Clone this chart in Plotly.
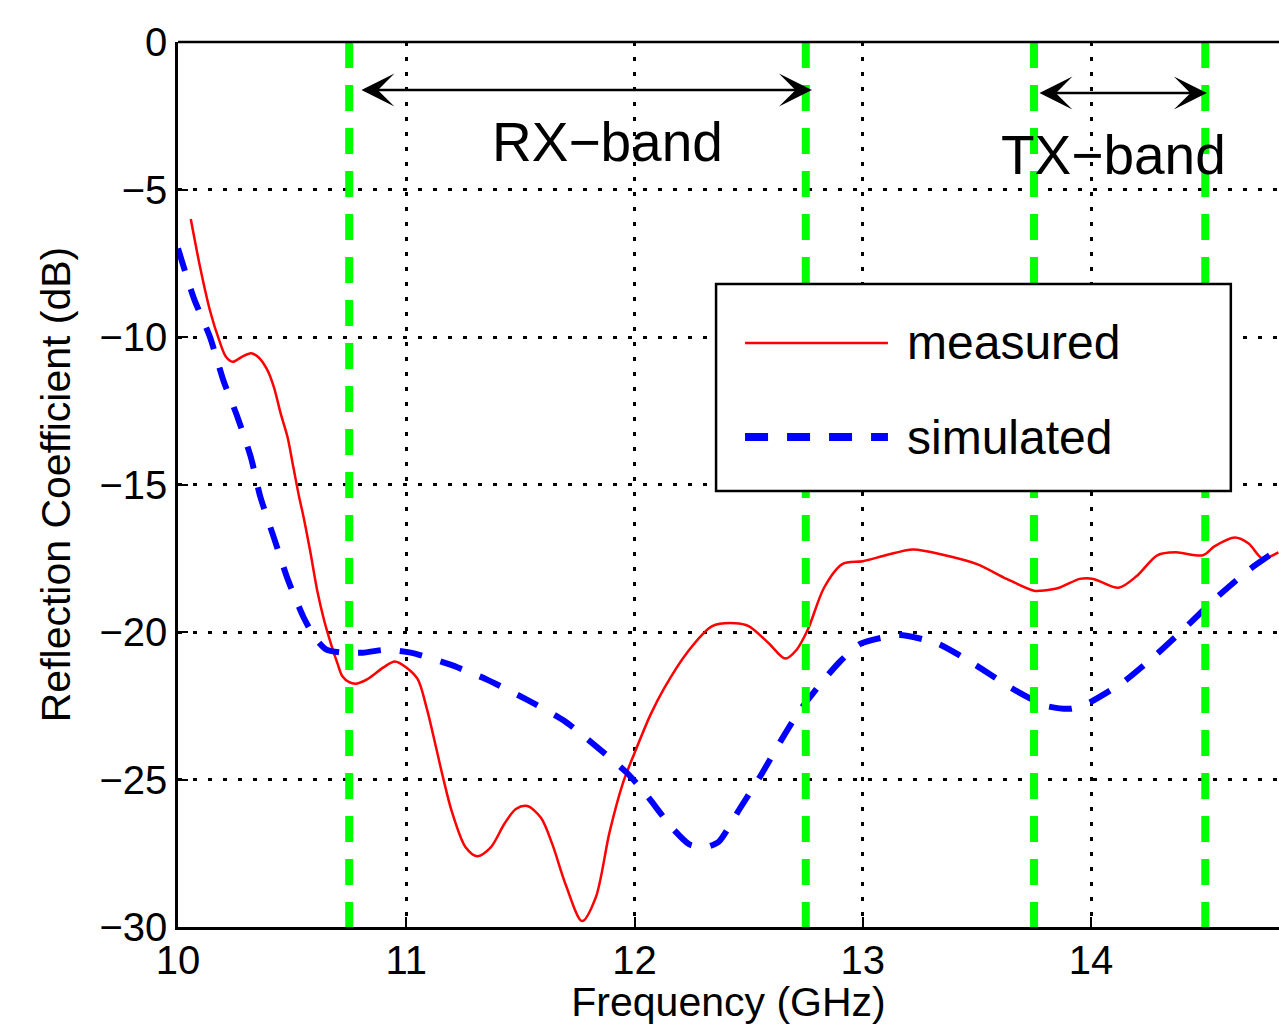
import plotly.graph_objects as go

# ---------------- data ----------------
freq_meas = [10.056, 10.096, 10.14, 10.18, 10.21, 10.24, 10.28, 10.32, 10.35, 10.39,
             10.42, 10.45, 10.48, 10.505, 10.53, 10.55, 10.58, 10.61, 10.64, 10.67,
             10.70, 10.72, 10.75, 10.78, 10.83, 10.90, 10.95, 11.00, 11.05, 11.09,
             11.13, 11.16, 11.20, 11.26, 11.31, 11.37, 11.43, 11.48, 11.53, 11.59,
             11.64, 11.70, 11.77, 11.83, 11.89, 11.95, 12.00, 12.07, 12.13, 12.23,
             12.34, 12.44, 12.50, 12.59, 12.66, 12.71, 12.76, 12.83, 12.91, 13.00,
             13.10, 13.22, 13.36, 13.50, 13.63, 13.75, 13.78, 13.86, 13.95, 14.01,
             14.12, 14.20, 14.29, 14.37, 14.49, 14.54, 14.63, 14.69, 14.75, 14.82]
s11_meas = [-6.0, -7.6, -9.1, -10.1, -10.67, -10.84, -10.67, -10.55, -10.67, -11.1,
            -11.7, -12.6, -13.4, -14.4, -15.4, -16.1, -17.3, -18.6, -19.6, -20.4,
            -21.1, -21.5, -21.7, -21.75, -21.6, -21.2, -21.0, -21.2, -21.6, -22.6,
            -23.9, -24.9, -26.1, -27.3, -27.6, -27.3, -26.5, -26.0, -25.9, -26.3,
            -27.2, -28.6, -29.8, -29.0, -26.8, -25.1, -24.1, -22.8, -21.9, -20.7,
            -19.8, -19.7, -19.8, -20.4, -20.9, -20.6, -19.9, -18.5, -17.7, -17.6,
            -17.4, -17.2, -17.4, -17.7, -18.2, -18.6, -18.6, -18.5, -18.2, -18.2,
            -18.5, -18.1, -17.4, -17.3, -17.4, -17.1, -16.8, -17.0, -17.5, -17.3]

freq_sim = [10.0, 10.07, 10.14, 10.20, 10.26, 10.32, 10.36, 10.42, 10.48, 10.55,
            10.60, 10.65, 10.72, 10.81, 10.91, 11.02, 11.19, 11.35, 11.53, 11.69,
            11.82, 11.97, 12.05, 12.16, 12.24, 12.31, 12.37, 12.46, 12.55, 12.64,
            12.72, 12.81, 12.90, 12.99, 13.16, 13.33, 13.49, 13.65, 13.80, 13.91,
            13.99, 14.14, 14.28, 14.42, 14.54, 14.69, 14.82]
s11_sim = [-7.0, -8.7, -10.0, -11.5, -12.7, -14.1, -15.4, -16.8, -18.2, -19.5,
           -20.2, -20.6, -20.7, -20.7, -20.6, -20.7, -21.1, -21.6, -22.3, -23.0,
           -23.8, -24.8, -25.5, -26.6, -27.2, -27.3, -27.1, -26.0, -24.9, -23.7,
           -22.7, -21.8, -21.0, -20.4, -20.1, -20.4, -21.1, -21.9, -22.5, -22.6,
           -22.4, -21.7, -20.8, -19.8, -18.9, -17.9, -17.2]

band_edges = [10.75, 12.75, 13.75, 14.5]
band_labels = ["RX\u2212band", "TX\u2212band"]
series_names = ["measured", "simulated"]

x_ticks = [10, 11, 12, 13, 14]
y_ticks = [-30, -25, -20, -15, -10, -5, 0]
y_ticktext = ["\u221230", "\u221225", "\u221220", "\u221215", "\u221210", "\u22125", "0"]

FONT = "Liberation Sans, Arial, Helvetica, sans-serif"
X_MIN, X_MAX = 10, 14.823
Y_MIN, Y_MAX = -30, 0

fig = go.Figure()
fig.add_trace(go.Scatter(x=freq_meas, y=s11_meas, mode="lines", name=series_names[0],
                         line=dict(color="#ff0000", width=2.5, shape="spline", smoothing=0.85),
                         showlegend=False))
fig.add_trace(go.Scatter(x=freq_sim, y=s11_sim, mode="lines", name=series_names[1],
                         line=dict(color="#0000ff", width=6, dash="23px,19px",
                                   shape="spline", smoothing=0.6),
                         showlegend=False))

shapes = []
# band edge markers (green dashed)
for xe in band_edges:
    shapes.append(dict(type="line", xref="x", yref="y", x0=xe, x1=xe, y0=Y_MAX, y1=Y_MIN,
                       line=dict(color="#00ff00", width=8, dash="26px,17px"), layer="above"))
# top border
shapes.append(dict(type="line", xref="paper", yref="paper", x0=0, x1=1, y0=1, y1=1,
                   line=dict(color="black", width=2.5), layer="above"))

# manual legend box
lg_x0, lg_x1, lg_y0, lg_y1 = 12.357, 14.612, -8.20, -15.22
shapes.append(dict(type="rect", xref="x", yref="y", x0=lg_x0, x1=lg_x1, y0=lg_y0, y1=lg_y1,
                   fillcolor="white", line=dict(color="black", width=2.5), layer="above"))
ls_x0, ls_x1 = 12.484, 13.11
row_y = [-10.2, -13.39]
shapes.append(dict(type="line", xref="x", yref="y", x0=ls_x0, x1=ls_x1, y0=row_y[0], y1=row_y[0],
                   line=dict(color="#ff0000", width=2.5), layer="above"))
shapes.append(dict(type="line", xref="x", yref="y", x0=ls_x0, x1=ls_x1, y0=row_y[1], y1=row_y[1],
                   line=dict(color="#0000ff", width=8, dash="23px,19px"), layer="above"))

annotations = []
for name, yy in zip(series_names, row_y):
    annotations.append(dict(x=13.184, y=yy, xref="x", yref="y", text=name, showarrow=False,
                            xanchor="left", yanchor="middle",
                            font=dict(family=FONT, size=48, color="black")))

# band labels
annotations.append(dict(x=11.88, y=-3.39, xref="x", yref="y", text=band_labels[0],
                        showarrow=False, font=dict(family=FONT, size=55, color="black")))
annotations.append(dict(x=14.10, y=-3.83, xref="x", yref="y", text=band_labels[1],
                        showarrow=False, font=dict(family=FONT, size=55, color="black")))

# double-headed arrows
for (xa, xb, yy) in [(10.797, 12.777, -1.63), (13.767, 14.507, -1.73)]:
    annotations.append(dict(x=xb, y=yy, ax=xa, ay=yy, xref="x", yref="y", axref="x", ayref="y",
                            text="", showarrow=True, arrowhead=3, startarrowhead=3,
                            arrowside="end+start", arrowsize=2.2, startarrowsize=2.2,
                            arrowwidth=2.5, arrowcolor="black", standoff=0, startstandoff=0))

fig.update_layout(
    width=1279, height=1025,
    margin=dict(l=178, r=0, t=42, b=98, autoexpand=False),
    plot_bgcolor="white", paper_bgcolor="white",
    font=dict(family=FONT, size=40, color="black"),
    shapes=shapes, annotations=annotations,
    showlegend=False,
)
fig.update_xaxes(
    range=[X_MIN, X_MAX], tickmode="array", tickvals=x_ticks,
    ticks="inside", ticklen=10, tickwidth=2, tickcolor="black",
    showline=True, linecolor="black", linewidth=2.5,
    showgrid=True, gridcolor="black", gridwidth=2.5, griddash="4px,11px",
    zeroline=False, ticklabelstandoff=-4,
    tickfont=dict(family=FONT, size=40, color="black"),
    title=dict(text="Frequency (GHz)", font=dict(family=FONT, size=41, color="black"), standoff=12),
    automargin=False,
)
fig.update_yaxes(
    range=[Y_MIN, Y_MAX], tickmode="array", tickvals=y_ticks, ticktext=y_ticktext,
    ticks="inside", ticklen=10, tickwidth=2, tickcolor="black",
    showline=True, linecolor="black", linewidth=2.5,
    showgrid=True, gridcolor="black", gridwidth=2.5, griddash="4px,11px",
    zeroline=False, ticklabelstandoff=0,
    tickfont=dict(family=FONT, size=40, color="black"),
    title=dict(text="Reflection Coefficient (dB)", font=dict(family=FONT, size=41, color="black"),
               standoff=17),
    automargin=False,
)

fig.write_html(
    "out.html",
    config={"displayModeBar": False},
    post_script="document.body.style.margin='0';document.body.style.padding='0';"
                "document.body.style.overflow='hidden';"
                "document.documentElement.style.overflow='hidden';",
)
